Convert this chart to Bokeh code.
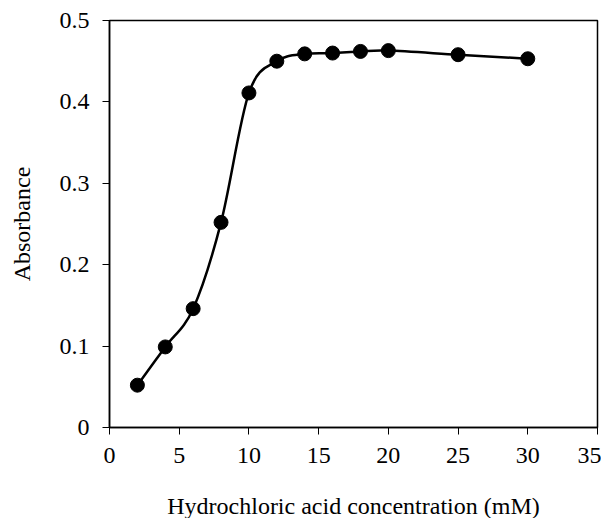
from bokeh.plotting import figure
from bokeh.models import Range1d, FixedTicker
from bokeh.embed import file_html
from bokeh.resources import INLINE

# Data
conc = [2, 4, 6, 8, 10, 12, 14, 16, 18, 20, 25, 30]
absorbance = [0.052, 0.099, 0.146, 0.252, 0.411, 0.450, 0.459, 0.460, 0.462, 0.463, 0.458, 0.453]
x_ticks = [0, 5, 10, 15, 20, 25, 30, 35]
y_ticks = [0, 0.1, 0.2, 0.3, 0.4, 0.5]

FONT = "Liberation Serif"

p = figure(
    frame_width=488, frame_height=407,
    min_border_left=109, min_border_right=4, min_border_top=20, min_border_bottom=40,
    x_range=Range1d(0, 35), y_range=Range1d(0, 0.5),
    output_backend="svg", toolbar_location=None,
)
p.grid.visible = False
p.outline_line_color = "black"
p.outline_line_width = 1.5
p.background_fill_color = "white"
p.border_fill_color = "white"

# Smoothed line (Catmull-Rom style bezier segments built from the data)
n = len(conc)
x0, y0, x1, y1, cx0, cy0, cx1, cy1 = [], [], [], [], [], [], [], []
for i in range(n - 1):
    xp, yp = (conc[i - 1], absorbance[i - 1]) if i > 0 else (conc[i], absorbance[i])
    xa, ya = conc[i], absorbance[i]
    xb, yb = conc[i + 1], absorbance[i + 1]
    xn, yn = (conc[i + 2], absorbance[i + 2]) if i + 2 < n else (xb, yb)
    x0.append(xa); y0.append(ya); x1.append(xb); y1.append(yb)
    cx0.append(xa + (xb - xp) / 6); cy0.append(ya + (yb - yp) / 6)
    cx1.append(xb - (xn - xa) / 6); cy1.append(yb - (yn - ya) / 6)
p.bezier(x0=x0, y0=y0, x1=x1, y1=y1, cx0=cx0, cy0=cy0, cx1=cx1, cy1=cy1,
         line_color="black", line_width=2.5)

p.scatter(conc, absorbance, size=14, fill_color="black", line_color="black")

for ax in (p.xaxis[0], p.yaxis[0]):
    ax.axis_line_color = "black"
    ax.axis_line_width = 1.5
    ax.major_tick_line_color = "black"
    ax.major_tick_line_width = 1
    ax.major_tick_in = 0
    ax.major_tick_out = 7
    ax.minor_tick_line_color = None
    ax.major_label_text_font = FONT
    ax.major_label_text_font_style = "normal"
    ax.major_label_text_font_size = "24px"
    ax.major_label_text_color = "black"
    ax.axis_label_text_font = FONT
    ax.axis_label_text_font_size = "24px"
    ax.axis_label_text_font_style = "normal"
    ax.axis_label_text_color = "black"

p.xaxis[0].ticker = FixedTicker(ticks=x_ticks)
p.yaxis[0].ticker = FixedTicker(ticks=y_ticks)
p.yaxis[0].major_label_overrides = {0: "0"}
p.xaxis[0].axis_label = "Hydrochloric acid concentration (mM)"
p.yaxis[0].axis_label = "Absorbance"
p.xaxis[0].major_label_standoff = 13
p.yaxis[0].major_label_standoff = 13
p.xaxis[0].axis_label_standoff = 27
p.yaxis[0].axis_label_standoff = 22

open("out.html", "w").write(file_html(p, INLINE))
